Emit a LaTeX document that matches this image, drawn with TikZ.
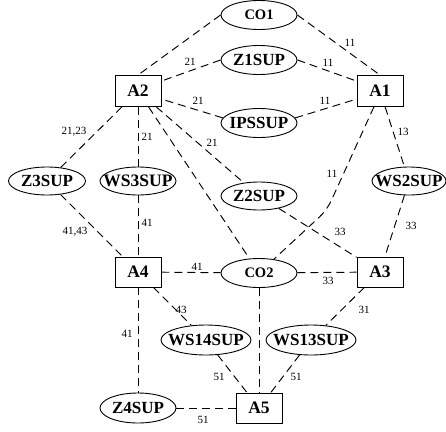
\documentclass[tikz,border=0pt]{standalone}
\usepackage{fontspec}
\setmainfont{Liberation Serif}
\usetikzlibrary{shapes.geometric}
\newcommand\zw[1]{\makebox[0pt]{#1}}
\begin{document}
\begin{tikzpicture}[x=1pt,y=-1pt,
  fs/.style={font=\fontsize{#1}{#1}\selectfont\bfseries},
  ell/.style={ellipse,draw,line width=0.9pt,inner sep=0pt,minimum width=76pt,minimum height=29pt,fs=17},
  box/.style={rectangle,draw,line width=0.9pt,inner sep=0pt,minimum width=46pt,minimum height=31pt,fs=17.5},
  lbl/.style={inner sep=0pt,font=\fontsize{11}{11}\selectfont},
  conn/.style={line width=0.95pt,dash pattern=on 8pt off 5pt}]
\useasboundingbox (0,0) rectangle (446,431);
% nodes
\node[ell,fs=14.5] (CO1) at (259,15) {\zw{CO1}};
\node[ell] (Z1) at (259,60) {\zw{Z1SUP}};
\node[ell] (IPS) at (259,123) {\zw{IPSSUP}};
\node[box] (A2) at (138,91) {A2};
\node[box] (A1) at (380,91) {A1};
\node[ell,minimum width=77pt,minimum height=28pt] (Z3) at (47,181) {\zw{Z3SUP}};
\node[ell,minimum height=28pt,fs=17.5] (WS3) at (138,181) {\zw{WS3SUP}};
\node[ell,minimum height=28pt] (Z2) at (259,196) {\zw{Z2SUP}};
\node[ell,minimum width=74pt,minimum height=28pt] (WS2) at (409,181) {\zw{WS2SUP}};
\node[box,minimum height=30pt] (A4) at (138,272) {A4};
\node[ell,fs=14.5] (CO2) at (259,273) {\zw{CO2}};
\node[box,minimum height=30pt] (A3) at (380,272) {A3};
\node[ell,minimum width=90pt,minimum height=30pt] (WS14) at (206,340) {\zw{WS14SUP}};
\node[ell,minimum width=90pt,minimum height=30pt] (WS13) at (311,340) {\zw{WS13SUP}};
\node[ell,minimum height=30pt] (Z4) at (138,408) {\zw{Z4SUP}};
\node[box,minimum height=30pt] (A5) at (259,408) {A5};
\coordinate (bend) at (327,210);
% connectors
\draw[conn] (CO1.west) -- (A2.north);
\draw[conn] (CO1.east) -- (A1.north);
\draw[conn] (Z1.west) -- (A2.23);
\draw[conn] (Z1.east) -- (A1.157);
\draw[conn] (IPS.172) -- (A2.-19);
\draw[conn] (IPS.8) -- (A1.199);
\draw[conn] (A2) -- (Z3);
\draw[conn] (A2) -- (WS3);
\draw[conn] (A2) -- (CO2);
\draw[conn] (A2) -- (Z2);
\draw[conn] (A1) -- (WS2);
\draw[conn,rounded corners=10pt] (A1.-111) -- (bend) -- (CO2);
\draw[conn] (Z2) -- (A3);
\draw[conn] (WS2) -- (A3);
\draw[conn] (Z3) -- (A4);
\draw[conn] (WS3) -- (A4);
\draw[conn] (A4) -- (CO2);
\draw[conn] (CO2) -- (A3);
\draw[conn] (A4) -- (WS14);
\draw[conn] (A4) -- (Z4);
\draw[conn] (CO2) -- (A5);
\draw[conn] (A3) -- (WS13);
\draw[conn] (WS14) -- (A5);
\draw[conn] (WS13) -- (A5);
\draw[conn] (Z4) -- (A5);
% labels
\node[lbl] (l1) at (350,43) {11};
\node[lbl] (l2) at (190,62) {21};
\node[lbl] (l3) at (328,63) {11};
\node[lbl] (l4) at (198,101) {21};
\node[lbl] (l5) at (325,101) {11};
\node[lbl] (l6) at (74,132) {21,23};
\node[lbl] (l7) at (147,137) {21};
\node[lbl] (l8) at (212,143) {21};
\node[lbl] (l9) at (403,132) {13};
\node[lbl] (l10) at (332,174) {11};
\node[lbl] (l11) at (340,232) {33};
\node[lbl] (l12) at (411,226) {33};
\node[lbl] (l13) at (75,232) {41,43};
\node[lbl] (l14) at (147,223) {41};
\node[lbl] (l15) at (197,267) {41};
\node[lbl] (l16) at (328,281) {33};
\node[lbl] (l17) at (181,310) {43};
\node[lbl] (l18) at (127,334) {41};
\node[lbl] (l19) at (364,310) {31};
\node[lbl] (l20) at (219,377) {51};
\node[lbl] (l21) at (296,377) {51};
\node[lbl] (l22) at (203,420) {51};
\end{tikzpicture}
\end{document}
